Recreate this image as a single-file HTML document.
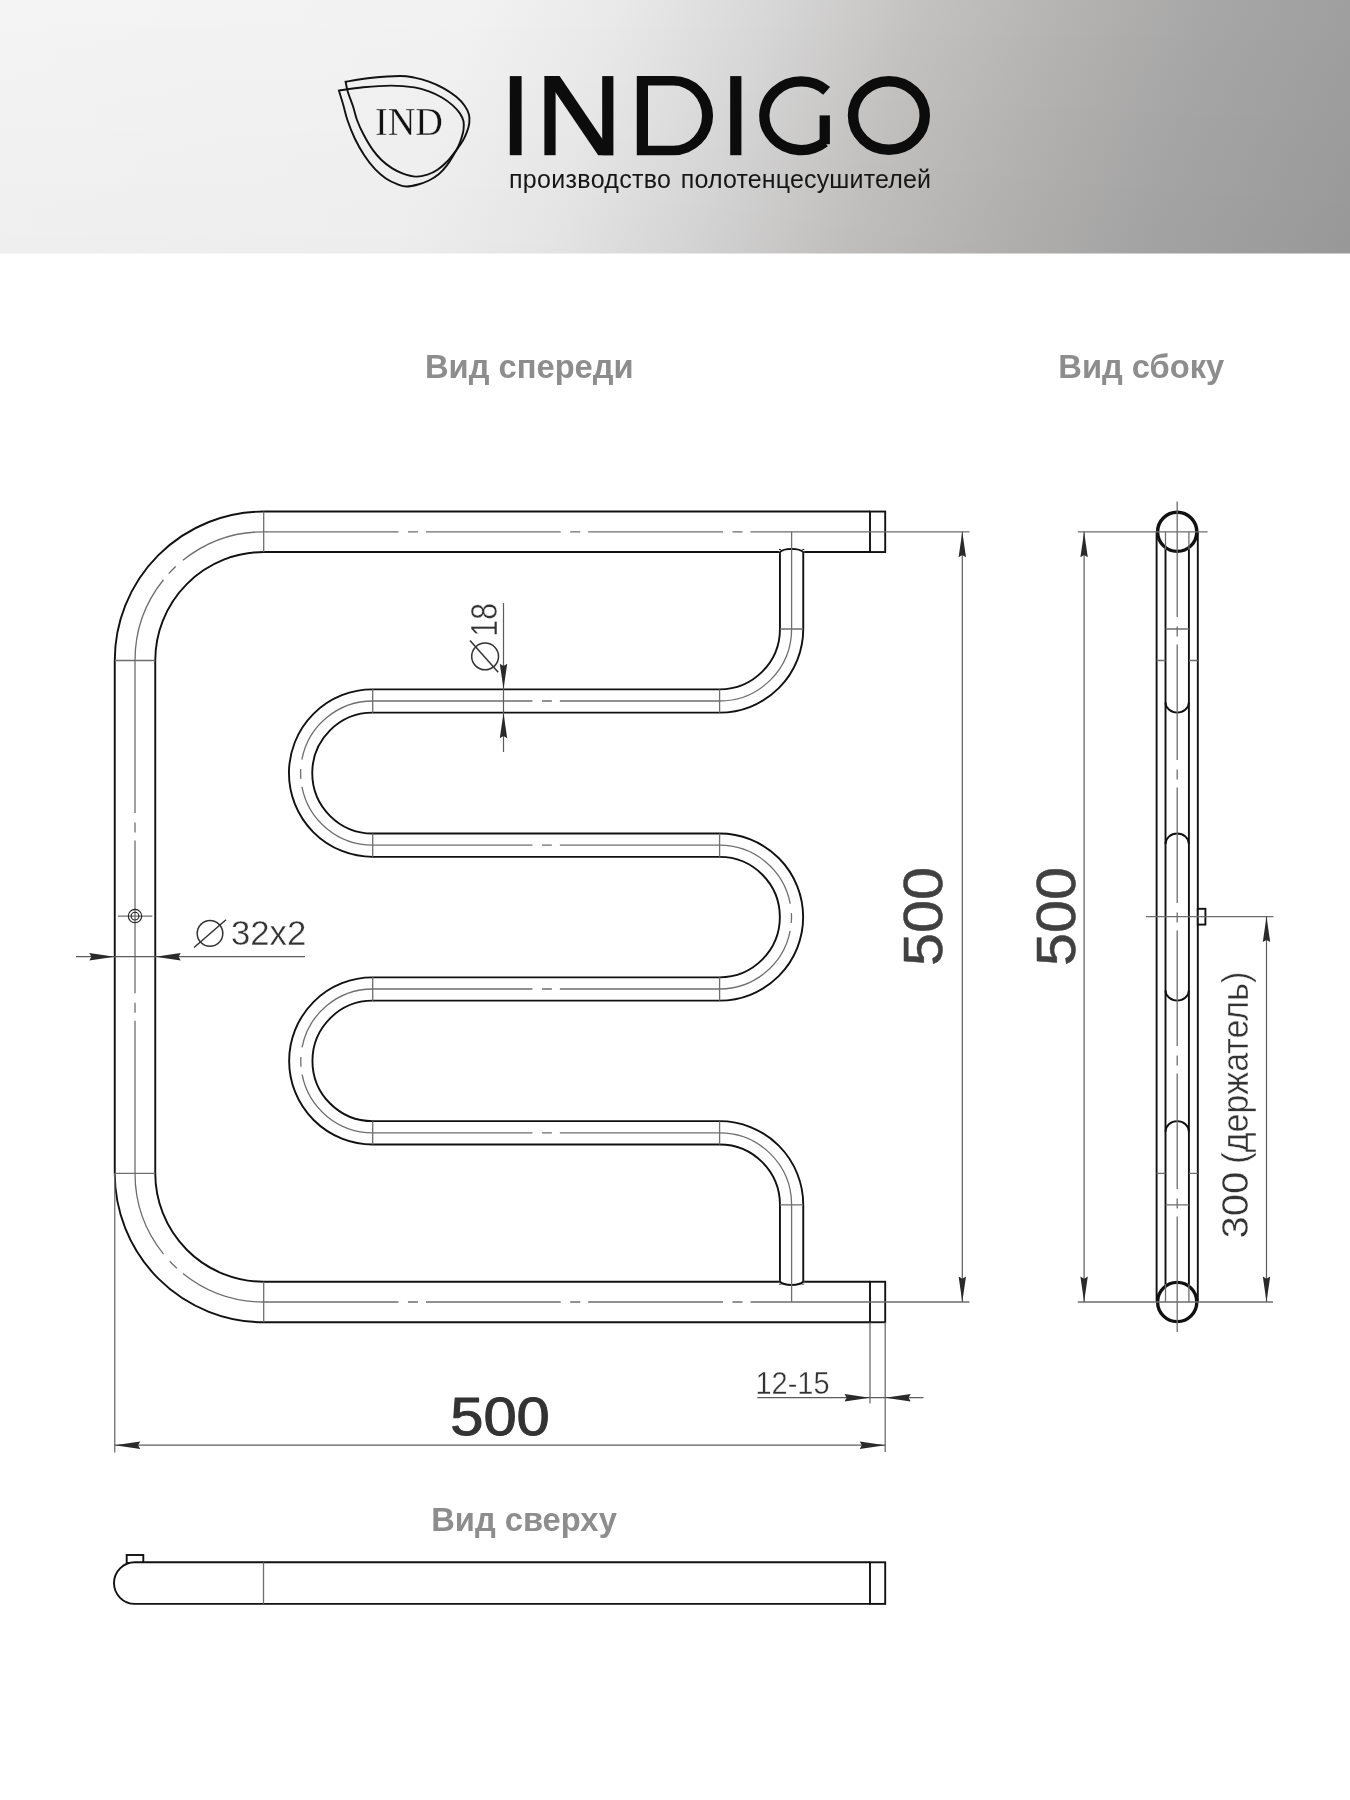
<!DOCTYPE html>
<html><head><meta charset="utf-8"><title>INDIGO</title>
<style>
html,body{margin:0;padding:0;background:#fff}
body{width:1350px;height:1800px;overflow:hidden;font-family:"Liberation Sans",sans-serif}
svg{display:block;will-change:transform}
text{font-family:"Liberation Sans",sans-serif}
.lbl{font-weight:bold;font-size:32.7px;fill:#8d8d8d}
.big{font-size:55px;fill:#404040;stroke:#404040;stroke-width:0.5px}
.dim{font-size:34px;fill:#333;stroke:#fff;stroke-width:0.4px}
.serif{font-family:"Liberation Serif",serif}
</style></head><body>
<svg width="1350" height="1800" viewBox="0 0 1350 1800">
<defs>
<linearGradient id="hg" gradientUnits="userSpaceOnUse" x1="0" y1="0" x2="1298.8" y2="410.2">
<stop offset="0" stop-color="#f4f4f4"/>
<stop offset="0.331" stop-color="#f3f2f2"/>
<stop offset="0.436" stop-color="#eae9e9"/>
<stop offset="0.541" stop-color="#d8d7d7"/>
<stop offset="0.646" stop-color="#c3c2c1"/>
<stop offset="0.750" stop-color="#b4b3b2"/>
<stop offset="0.855" stop-color="#a7a6a6"/>
<stop offset="1" stop-color="#9c9b9b"/>
</linearGradient>
<linearGradient id="hv" x1="0" y1="0" x2="0" y2="1">
<stop offset="0" stop-color="#000" stop-opacity="0"/>
<stop offset="1" stop-color="#000" stop-opacity="0.02"/>
</linearGradient>
</defs>
<rect x="0" y="0" width="1350" height="1800" fill="#fff"/>
<rect x="0" y="0" width="1350" height="253.5" fill="url(#hg)"/>
<rect x="0" y="0" width="1350" height="253.5" fill="url(#hv)"/>

<g fill="none" stroke="#111" stroke-width="1.9" stroke-linejoin="miter">
<path d="M345.6 81.7 C350.0 81.0 363.1 78.8 372.2 77.8 C381.3 76.8 393.0 76.0 400.0 76.0 C407.0 76.0 409.6 76.7 414.4 77.6 C419.2 78.5 424.1 79.8 428.9 81.6 C433.7 83.3 438.7 85.6 443.3 88.1 C447.9 90.6 452.7 93.8 456.3 96.8 C459.9 99.8 462.9 103.2 465.0 106.2 C467.1 109.2 468.3 112.0 469.0 114.8 C469.7 117.6 469.6 120.0 469.3 122.8 C469.0 125.6 468.2 128.4 467.1 131.4 C466.0 134.4 464.6 137.7 462.8 140.8 C461.0 143.9 458.8 146.8 456.3 150.2 C453.8 153.6 450.8 157.8 447.7 161.0 C444.6 164.2 440.9 167.4 437.5 169.7 C434.1 172.0 431.0 173.5 427.4 174.7 C423.8 175.8 420.0 176.8 415.9 176.6 C411.8 176.4 407.0 175.0 403.0 173.6 C399.0 172.2 395.5 170.4 391.9 168.1 C388.3 165.8 384.7 163.1 381.5 160.0 C378.3 156.9 375.6 153.8 372.6 149.6 C369.6 145.4 366.3 139.7 363.7 134.8 C361.1 129.9 358.7 124.6 357.0 120.0 C355.3 115.4 354.8 111.9 353.3 107.2 C351.8 102.5 349.1 96.0 347.8 91.7 C346.5 87.5 346.0 83.4 345.6 81.7Z"/>
<path d="M338.9 90.6 C343.0 90.0 354.6 88.0 363.3 87.2 C372.0 86.4 382.6 85.6 391.1 85.6 C399.6 85.6 408.1 86.4 414.4 87.4 C420.7 88.4 424.3 89.7 428.9 91.4 C433.5 93.1 437.9 95.2 441.9 97.5 C445.9 99.8 449.7 102.8 452.7 105.4 C455.7 108.1 458.1 110.8 459.9 113.4 C461.7 116.1 462.9 118.5 463.5 121.3 C464.1 124.1 463.8 127.3 463.5 130.0 C463.2 132.7 462.5 134.5 461.7 137.2 C460.9 139.8 459.9 142.9 458.5 145.9 C457.1 148.9 455.3 152.1 453.4 155.3 C451.5 158.6 449.3 162.3 446.9 165.4 C444.5 168.5 442.0 171.5 439.0 174.0 C436.0 176.5 432.4 178.8 428.9 180.5 C425.4 182.2 421.8 183.5 418.1 184.5 C414.4 185.5 410.1 186.5 406.7 186.5 C403.3 186.5 401.3 185.7 397.8 184.4 C394.3 183.1 389.7 181.1 385.9 178.5 C382.1 175.9 378.4 172.7 374.8 168.9 C371.2 165.1 367.7 160.7 364.4 155.6 C361.1 150.5 357.6 144.4 354.8 138.5 C352.0 132.6 349.3 125.6 347.4 120.0 C345.5 114.4 344.7 109.9 343.3 105.0 C341.9 100.1 339.6 93.0 338.9 90.6Z"/>
</g>
<text class="serif" x="375" y="134.9" font-size="39" fill="#111" stroke="#efefef" stroke-width="0.35" textLength="68" lengthAdjust="spacingAndGlyphs">IND</text>
<g fill="#0c0c0c">
<rect x="509.8" y="76.1" width="11.8" height="79.1"/>
<rect x="544.4" y="76.1" width="11.2" height="79.1"/>
<rect x="602.2" y="76.1" width="11.2" height="79.1"/>
<path d="M544.4 76.1H559.6L613.4 155.2H598.2Z"/>
<path fill-rule="evenodd" d="M636.8 76.1H673.5A39.55 39.55 0 0 1 673.5 155.2H636.8Z M648 85.6H673.5A28.5 30.05 0 0 1 673.5 145.7H648Z"/>
<rect x="730.2" y="76.1" width="11.2" height="79.1"/>
<rect x="819.6" y="115.4" width="10.3" height="28.8"/>
</g>
<path d="M826.65 90.9A36.85 34.35 0 1 0 824.7 142.2" fill="none" stroke="#0c0c0c" stroke-width="10.3"/>
<ellipse cx="888.9" cy="115.5" rx="35.85" ry="34.25" fill="none" stroke="#0c0c0c" stroke-width="10.5"/>
<text y="187.8" font-size="25" fill="#161616" xml:space="preserve"><tspan x="509" textLength="162" lengthAdjust="spacing">производство</tspan><tspan> </tspan><tspan x="680.7" textLength="250.3" lengthAdjust="spacing">полотенцесушителей</tspan></text>
<text class="lbl" x="425" y="378.4">Вид спереди</text>
<text class="lbl" x="1058.3" y="378.4">Вид сбоку</text>
<text class="lbl" x="431.2" y="1530.7">Вид сверху</text>
<path d="M870.0 531.8 H263.7 A128.7 128.7 0 0 0 135.0 660.5 V1173.3 A128.7 128.7 0 0 0 263.7 1302.0 H870.0" fill="none" stroke="#111" stroke-width="42.4"/>
<path d="M870.0 531.8 H263.7 A128.7 128.7 0 0 0 135.0 660.5 V1173.3 A128.7 128.7 0 0 0 263.7 1302.0 H870.0" fill="none" stroke="#fff" stroke-width="38.6"/>
<rect x="870.0" y="511.54999999999995" width="15.2" height="40.5" fill="#fff" stroke="#111" stroke-width="1.9"/>
<rect x="870.0" y="1281.75" width="15.2" height="40.5" fill="#fff" stroke="#111" stroke-width="1.9"/>
<path d="M791.6 549 V629.0 A72.0 72.0 0 0 1 719.6 701.0 H372.7 A72.10000000000002 72.10000000000002 0 0 0 372.7 845.2 H719.6 A71.89999999999998 71.89999999999998 0 0 1 719.6 989.0 H372.7 A71.89999999999998 71.89999999999998 0 0 0 372.7 1132.8 H719.6 A72.0 72.0 0 0 1 791.6 1204.8 V1284.5" fill="none" stroke="#111" stroke-width="25.2"/>
<path d="M791.6 549 V629.0 A72.0 72.0 0 0 1 719.6 701.0 H372.7 A72.10000000000002 72.10000000000002 0 0 0 372.7 845.2 H719.6 A71.89999999999998 71.89999999999998 0 0 1 719.6 989.0 H372.7 A71.89999999999998 71.89999999999998 0 0 0 372.7 1132.8 H719.6 A72.0 72.0 0 0 1 791.6 1204.8 V1284.5" fill="none" stroke="#fff" stroke-width="21.400000000000002"/>
<path d="M778.95 553.25V550.05H804.25V553.25Z" fill="#fff"/>
<path d="M779.95 553.55V552.05Q782.95 549.05 791.6 548.8499999999999Q800.25 549.05 803.25 552.05V553.55" fill="none" stroke="#111" stroke-width="1.9"/>
<path d="M778.95 1280.55V1283.75H804.25V1280.55Z" fill="#fff"/>
<path d="M779.95 1280.25V1281.75Q782.95 1284.75 791.6 1284.95Q800.25 1284.75 803.25 1281.75V1280.25" fill="none" stroke="#111" stroke-width="1.9"/>
<g stroke="#6e6e6e" stroke-width="1.3" fill="none">
<path d="M263.7 511.54999999999995V552.05M114.75 660.5H155.25M114.75 1173.3H155.25M263.7 1281.75V1322.25"/>
<path d="M372.7 689.35V712.65M719.6 689.35V712.65M372.7 833.5500000000001V856.85M719.6 833.5500000000001V856.85M372.7 977.35V1000.65M719.6 977.35V1000.65M372.7 1121.1499999999999V1144.45M719.6 1121.1499999999999V1144.45M779.95 629.0H803.25M779.95 1204.8H803.25"/>
<path d="M263.7 531.8H885.2" stroke-dasharray="134.75 9.5 10 8 134.75 9.5 10 8 134.75 9.5 10 8 134.75"/>
<path d="M263.7 1302.0H885.2" stroke-dasharray="134.75 9.5 10 8 134.75 9.5 10 8 134.75 9.5 10 8 134.75"/>
<path d="M885.2 531.8H969.5M885.2 1302.0H969.5"/>
<path d="M263.7 531.8A128.7 128.7 0 0 0 135.0 660.5" stroke-dasharray="87.33 9.5 10 8 87.33"/>
<path d="M135.0 660.5V1173.3" stroke-dasharray="152.6 9.5 10 8 152.6 9.5 10 8 152.6"/>
<path d="M135.0 1173.3A128.7 128.7 0 0 0 263.7 1302.0" stroke-dasharray="87.33 9.5 10 8 87.33"/>
<path d="M791.6 531.8V629.0A72.0 72.0 0 0 1 719.6 701.0"/>
<path d="M719.6 1132.8A72.0 72.0 0 0 1 791.6 1204.8V1302.0"/>
<path d="M372.7 701.0H719.6" stroke-dasharray="159.7 9.5 10 8 159.7"/>
<path d="M372.7 845.2H719.6" stroke-dasharray="159.7 9.5 10 8 159.7"/>
<path d="M372.7 989.0H719.6" stroke-dasharray="159.7 9.5 10 8 159.7"/>
<path d="M372.7 1132.8H719.6" stroke-dasharray="159.7 9.5 10 8 159.7"/>
<path d="M372.7 701.0A72.10000000000002 72.10000000000002 0 0 0 372.7 845.2" stroke-dasharray="99.5 9.5 10 8 99.5"/>
<path d="M719.6 845.2A71.89999999999998 71.89999999999998 0 0 1 719.6 989.0" stroke-dasharray="99.19 9.5 10 8 99.19"/>
<path d="M372.7 989.0A71.89999999999998 71.89999999999998 0 0 0 372.7 1132.8" stroke-dasharray="99.19 9.5 10 8 99.19"/>
<path d="M962.3 531.8V1302.0" stroke="#5c5c5c" stroke-width="1.2"/>
<path d="M870.0 1322.25V1403.5M885.2 1322.25V1452"/>
<path d="M757.3 1397.7H923.5" stroke="#5c5c5c" stroke-width="1.2"/>
<path d="M114.75 1173.3V1452.5"/>
<path d="M114.75 1445.2H885.2" stroke="#5c5c5c" stroke-width="1.2"/>
<path d="M76 956.7H305" stroke="#5c5c5c" stroke-width="1.2"/>
<path d="M503.5 603V752" stroke="#5c5c5c" stroke-width="1.2"/>
<path d="M118 916.1H152.4"/>
</g>
<circle cx="135" cy="916.1" r="6.7" fill="none" stroke="#222" stroke-width="1.1"/>
<circle cx="135" cy="916.1" r="3.9" fill="none" stroke="#222" stroke-width="1.1"/>
<g fill="#2a2a2a">
<path transform="translate(962.3 531.8) rotate(-90)" d="M0 0L-25.5 -3.7L-23.3 0L-25.5 3.7Z"/>
<path transform="translate(962.3 1302.0) rotate(90)" d="M0 0L-25.5 -3.7L-23.3 0L-25.5 3.7Z"/>
<path transform="translate(870.0 1397.7) rotate(0)" d="M0 0L-25.5 -3.7L-23.3 0L-25.5 3.7Z"/>
<path transform="translate(885.2 1397.7) rotate(180)" d="M0 0L-25.5 -3.7L-23.3 0L-25.5 3.7Z"/>
<path transform="translate(114.75 1445.2) rotate(180)" d="M0 0L-25.5 -3.7L-23.3 0L-25.5 3.7Z"/>
<path transform="translate(885.2 1445.2) rotate(0)" d="M0 0L-25.5 -3.7L-23.3 0L-25.5 3.7Z"/>
<path transform="translate(114.75 956.7) rotate(0)" d="M0 0L-25.5 -3.7L-23.3 0L-25.5 3.7Z"/>
<path transform="translate(155.25 956.7) rotate(180)" d="M0 0L-25.5 -3.7L-23.3 0L-25.5 3.7Z"/>
<path transform="translate(503.5 689.35) rotate(90)" d="M0 0L-25.5 -3.7L-23.3 0L-25.5 3.7Z"/>
<path transform="translate(503.5 712.65) rotate(-90)" d="M0 0L-25.5 -3.7L-23.3 0L-25.5 3.7Z"/>
</g>
<text class="big" x="450.2" y="1435.3" style="font-size:54px;fill:#333;stroke:#333;stroke-width:1px;stroke-linejoin:round" textLength="99.6" lengthAdjust="spacingAndGlyphs">500</text>
<text class="big" transform="translate(941.8 966) rotate(-90)" textLength="99" lengthAdjust="spacingAndGlyphs">500</text>
<text class="big" transform="translate(1075 966) rotate(-90)" textLength="99" lengthAdjust="spacingAndGlyphs">500</text>
<text class="dim" x="755.5" y="1394" font-size="31" style="font-size:31px" textLength="74" lengthAdjust="spacingAndGlyphs">12-15</text>
<text class="dim" x="231" y="945.4" style="font-size:35.5px" textLength="75.3" lengthAdjust="spacingAndGlyphs">32x2</text>
<g fill="none" stroke="#333" stroke-width="1.5"><circle cx="210" cy="933.4" r="12.8"/><path d="M194 947.5L226 919.8"/></g>
<text class="dim" transform="translate(497.3 636.5) rotate(-90)" style="font-size:36px" textLength="33.5" lengthAdjust="spacingAndGlyphs">18</text>
<g fill="none" stroke="#333" stroke-width="1.5"><circle cx="485.1" cy="656.4" r="13.4"/><path d="M470 640.5L498.2 672.2"/></g>
<g fill="none" stroke="#111" stroke-width="1.9">
<path d="M1156.6000000000001 531.8V1302.0M1197.8 531.8V1302.0M1165.5 548.8V1285.0M1188.9 548.8V1285.0"/>
<path d="M1165.5 702.15A11.7 10.5 0 0 0 1188.9 702.15"/>
<path d="M1165.5 844.0500000000001A11.7 10.5 0 0 1 1188.9 844.0500000000001"/>
<path d="M1165.5 990.15A11.7 10.5 0 0 0 1188.9 990.15"/>
<path d="M1165.5 1131.6499999999999A11.7 10.5 0 0 1 1188.9 1131.6499999999999"/>
<rect x="1197.8" y="908.8" width="7.6" height="15.8" fill="#fff"/>
</g>
<circle cx="1177.2" cy="531.8" r="19.6" fill="#fff" stroke="#111" stroke-width="3.4"/>
<circle cx="1177.2" cy="1302.0" r="19.6" fill="#fff" stroke="#111" stroke-width="3.4"/>
<g stroke="#6e6e6e" stroke-width="1.3" fill="none">
<path d="M1177.2 501.5V1332" stroke-dasharray="115.5 9.5 10 8 115.5 9.5 10 8 115.5 9.5 10 8 115.5 9.5 10 8 115.5 9.5 10 8 115.5"/>
<path d="M1077.8 531.8H1207.6M1077.8 1302.0H1273"/>
<path d="M1165.5 531.8V549.8M1188.9 531.8V549.8M1165.5 1302.0V1284.0M1188.9 1302.0V1284.0"/>
<path d="M1165.5 629.0H1188.9M1165.5 1204.8H1188.9"/>
<path d="M1156.6000000000001 660.5H1165.5M1188.9 660.5H1197.8M1156.6000000000001 1173.3H1165.5M1188.9 1173.3H1197.8"/>
<path d="M1084.1 531.8V1302.0" stroke="#5c5c5c" stroke-width="1.2"/>
<path d="M1146 916.6H1273.5"/>
<path d="M1266.5 916.6V1302.0" stroke="#5c5c5c" stroke-width="1.2"/>
</g>
<g fill="#2a2a2a">
<path transform="translate(1084.1 531.8) rotate(-90)" d="M0 0L-25.5 -3.7L-23.3 0L-25.5 3.7Z"/>
<path transform="translate(1084.1 1302.0) rotate(90)" d="M0 0L-25.5 -3.7L-23.3 0L-25.5 3.7Z"/>
<path transform="translate(1266.5 916.6) rotate(-90)" d="M0 0L-25.5 -3.7L-23.3 0L-25.5 3.7Z"/>
<path transform="translate(1266.5 1302.0) rotate(90)" d="M0 0L-25.5 -3.7L-23.3 0L-25.5 3.7Z"/>
</g>
<text class="dim" transform="translate(1247.6 1238.4) rotate(-90)" style="font-size:37px" xml:space="preserve"><tspan textLength="66.6" lengthAdjust="spacingAndGlyphs">300</tspan><tspan> </tspan><tspan x="74.7" textLength="192" lengthAdjust="spacingAndGlyphs">(держатель)</tspan></text>
<rect x="126.7" y="1555" width="16.6" height="8" fill="#fff" stroke="#111" stroke-width="1.9"/>
<path d="M870.0 1562.3H134.80000000000007A20.800000000000068 20.800000000000068 0 0 0 134.80000000000007 1603.9H870.0" fill="#fff" stroke="#111" stroke-width="1.9"/>
<rect x="870.0" y="1562.3" width="15.2" height="41.600000000000136" fill="#fff" stroke="#111" stroke-width="1.9"/>
<path d="M263.5 1562.3V1603.9" stroke="#6e6e6e" stroke-width="1.3" fill="none"/>
</svg></body></html>
